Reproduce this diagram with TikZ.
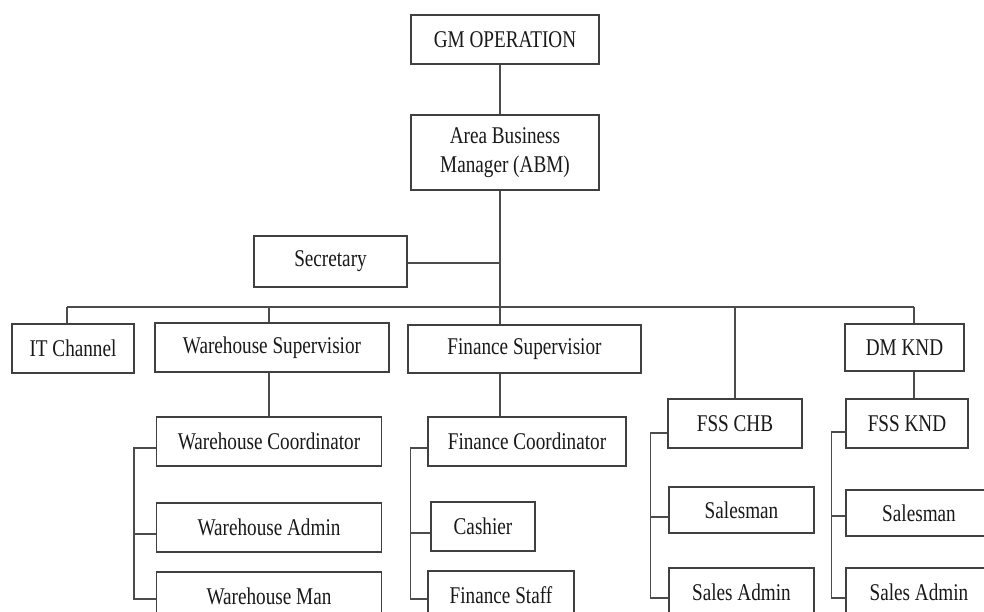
\documentclass[tikz,border=0pt]{standalone}
\usepackage{fontspec}
\setmainfont{Liberation Serif}[FakeStretch=0.8]
\usepackage{xcolor}

\begin{document}
\begin{tikzpicture}[x=1pt, y=-1pt,
        onode/.style={rectangle, draw=black!75, line width=1.3pt, fill=white, inner sep=0pt, align=center, minimum height=49, font=\fontsize{24}{29}\selectfont, text=black!90},
        link/.style={draw=black!70, line width=1.3pt}
    ]
        \clip (0,0) rectangle (984,612);
        \node[onode, minimum width=188] (gm) at (505,39.5) {GM OPERATION};
        \node[onode, minimum width=188, minimum height=75] (abm) at (505,152.5) {Area Business\\Manager (ABM)};
        \node[onode, minimum width=153, minimum height=51] (sec) at (330.5,261.5) {Secretary};
        \node[onode, minimum width=122] (it) at (73,348.5) {IT Channel};
        \node[onode, minimum width=234] (ws) at (272,347.5) {Warehouse Supervisior};
        \node[onode, minimum width=233, minimum height=48] (fs) at (524.5,349) {Finance Supervisior};
        \node[onode, minimum width=119, minimum height=47] (dm) at (904.5,347.5) {DM KND};
        \node[onode, minimum width=225] (wc) at (269,441.5) {Warehouse Coordinator};
        \node[onode, minimum width=225] (wa) at (269,527.5) {Warehouse Admin};
        \node[onode, minimum width=225] (wm) at (269,596.5) {Warehouse Man};
        \node[onode, minimum width=198] (fc) at (527,441.5) {Finance Coordinator};
        \node[onode, minimum width=104] (cash) at (483,526.5) {Cashier};
        \node[onode, minimum width=146] (fst) at (501,595.5) {Finance Staff};
        \node[onode, minimum width=134] (chb) at (735,423.5) {FSS CHB};
        \node[onode, minimum width=145, minimum height=46] (sm1) at (741.5,510) {Salesman};
        \node[onode, minimum width=145] (sa1) at (741.5,592.5) {Sales Admin};
        \node[onode, minimum width=122] (knd) at (907,423.5) {FSS KND};
        \node[onode, minimum width=146, minimum height=46] (sm2) at (919,513) {Salesman};
        \node[onode, minimum width=146] (sa2) at (919,592.5) {Sales Admin};

        % trunk and bus
        \coordinate (trunk) at (500,307);
        \coordinate (busL) at (67,307);
        \coordinate (busR) at (914,307);
        \draw[link] (gm.south -| trunk) -- (abm.north -| trunk);
        \draw[link] (abm.south -| trunk) -- (fs.north -| trunk);
        \draw[link] ([yshift=-1.5pt]sec.east) -- ([yshift=-1.5pt]sec.east -| trunk);
        \draw[link] (busL) -- (busR);
        \draw[link] (busL) -- (busL |- it.north);
        \draw[link] (busL -| wc.north) -- (ws.north -| wc.north);
        \draw[link] (ws.south -| wc.north) -- (wc.north);
        \draw[link] (fs.south -| trunk) -- (fc.north -| trunk);
        \draw[link] (busL -| chb.north) -- (chb.north);
        \draw[link] (busR) -- (busR |- dm.north);
        \draw[link] (dm.south -| busR) -- (knd.north -| busR);

        % brackets
        \draw[link] ([yshift=-6.5pt]wc.west) -- ++(-22,0) |- ([yshift=-2.5pt]wm.west);
        \draw[link] ([yshift=-6.5pt]wa.west) -- ++(-22,0);
        \draw[link] ([yshift=-6.5pt]fc.west) -- ++(-17,0) |- ([yshift=-3.5pt]fst.west);
        \draw[link] ([yshift=-6.5pt]cash.west) -- ++(-20,0);
        \draw[link] ([yshift=-9.5pt]chb.west) -- ++(-17,0) |- ([yshift=-5.5pt]sa1.west);
        \draw[link] ([yshift=-7pt]sm1.west) -- ++(-18,0);
        \draw[link] ([yshift=-8.5pt]knd.west) -- ++(-14,0) |- ([yshift=-5.5pt]sa2.west);
        \draw[link] ([yshift=-3pt]sm2.west) -- ++(-14,0);
\end{tikzpicture}
\end{document}
